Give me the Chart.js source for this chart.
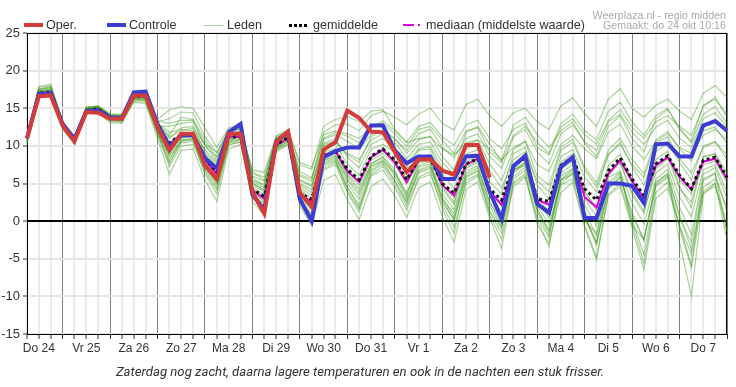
<!DOCTYPE html>
<html>
<head>
<meta charset="utf-8">
<script src="https://cdn.jsdelivr.net/npm/chart.js@4.4.1/dist/chart.umd.min.js"></script>
<style>
  body { margin: 0; background: #fff; }
  #wrap { position: relative; width: 736px; height: 387px; font-family: Arial, "Liberation Sans", sans-serif; }
  #chart { position: absolute; left: 0; top: 0; }
  .lg { position: absolute; top: 17px; font-size: 12.6px; line-height: 16px; color: #333; white-space: nowrap; }
  .sw { position: absolute; }
  .meta { position: absolute; right: 10px; font-size: 10.7px; line-height: 12px; color: #aaa; text-align: right; white-space: nowrap; }
  #caption { position: absolute; left: 0; width: 720px; top: 364px; text-align: center; font: italic 13.2px Roboto, "Liberation Sans", sans-serif; color: #333; }
</style>
</head>
<body>
<div id="wrap">
  <canvas id="chart" width="736" height="387"></canvas>

  <span class="sw" style="left:24px;top:23px;width:19px;height:4px;background:#d43c3c"></span>
  <span class="lg" style="left:46px">Oper.</span>
  <span class="sw" style="left:107px;top:23px;width:19px;height:4px;background:#3c3cd2"></span>
  <span class="lg" style="left:129px">Controle</span>
  <span class="sw" style="left:204px;top:25px;width:19px;height:1px;background:#a6d596"></span>
  <span class="lg" style="left:227px">Leden</span>
  <span class="sw" style="left:289px;top:24px;width:19px;height:3px;background:repeating-linear-gradient(90deg,#000 0 3px,transparent 3px 5px)"></span>
  <span class="lg" style="left:313px">gemiddelde</span>
  <span class="sw" style="left:403px;top:24px;width:11px;height:2px;background:#e000e0"></span>
  <span class="sw" style="left:418px;top:24px;width:2px;height:2px;background:#e000e0"></span>
  <span class="lg" style="left:426px">mediaan (middelste waarde)</span>

  <div class="meta" style="top:9px">Weerplaza.nl - regio midden</div>
  <div class="meta" style="top:19px">Gemaakt: do 24 okt 10:16</div>

  <div id="caption">Zaterdag nog zacht, daarna lagere temperaturen en ook in de nachten een stuk frisser.</div>
</div>

<script>
// 6-hourly steps, from Do 24 06:00 up to Vr 8 00:00 (60 points)
const days = ['Do 24', 'Vr 25', 'Za 26', 'Zo 27', 'Ma 28', 'Di 29', 'Wo 30', 'Do 31',
  'Vr 1', 'Za 2', 'Zo 3', 'Ma 4', 'Di 5', 'Wo 6', 'Do 7'];
const yTicks = [-15, -10, -5, 0, 5, 10, 15, 20, 25];

const oper = [11.0, 16.6, 16.7, 12.7, 10.6, 14.5, 14.4, 13.6, 13.6, 16.7, 16.7, 12.5, 9.4,
  11.6, 11.6, 7.4, 5.6, 11.6, 11.6, 3.8, 1.0, 10.5, 11.9, 3.8, 1.9, 9.5, 10.5, 14.7, 13.7,
  11.9, 11.8, 9.2, 6.5, 8.2, 8.2, 6.7, 6.2, 10.1, 10.1, 5.8];

const controle = [11.0, 16.9, 17.0, 12.9, 10.9, 14.6, 14.7, 13.8, 13.7, 17.1, 17.2, 12.9, 9.9,
  11.4, 11.4, 8.4, 7.0, 11.8, 12.9, 3.5, 1.5, 10.6, 11.8, 2.9, 0.0, 8.5, 9.3, 9.8, 9.8,
  12.7, 12.7, 9.4, 7.7, 8.6, 8.6, 5.6, 5.6, 8.6, 8.7, 3.9, 0.3, 7.3, 8.7, 2.3, 1.1,
  7.2, 8.5, 0.4, 0.4, 5.0, 5.0, 4.7, 2.4, 10.2, 10.3, 8.6, 8.6, 12.7, 13.3, 12.0];

const gemiddelde = [11.0, 17.0, 17.2, 12.8, 10.9, 14.7, 14.9, 13.8, 13.7, 16.6, 16.6, 12.4, 10.4,
  11.5, 11.5, 8.3, 6.5, 11.2, 11.2, 4.2, 3.3, 10.2, 11.1, 3.7, 2.9, 8.7, 9.3, 6.9, 5.5,
  8.6, 9.6, 8.1, 5.5, 8.2, 8.3, 5.0, 3.7, 7.6, 8.3, 4.3, 2.8, 7.4, 8.4, 3.0, 2.6,
  7.4, 8.5, 4.3, 2.8, 6.7, 8.4, 5.6, 3.4, 7.6, 8.7, 6.1, 4.3, 8.1, 8.5, 5.8];

const mediaan = [11.0, 17.0, 17.1, 12.8, 10.9, 14.7, 14.9, 13.8, 13.7, 16.6, 16.6, 12.4, 10.2,
  11.5, 11.5, 8.2, 6.2, 11.2, 11.2, 4.1, 3.0, 10.1, 11.0, 3.5, 2.6, 8.6, 9.3, 6.6, 5.2,
  8.5, 9.5, 7.8, 5.2, 8.1, 8.4, 4.8, 3.4, 7.5, 8.3, 4.0, 2.2, 7.3, 8.4, 2.8, 2.2,
  7.3, 8.3, 3.2, 1.8, 6.3, 8.1, 5.3, 3.1, 7.4, 8.5, 5.9, 4.2, 7.9, 8.3, 5.6];

// ensemble members (leden)
const leden = [
  [10.8, 16.8, 17.0, 12.6, 10.6, 14.6, 14.8, 13.6, 13.5, 16.4, 16.2, 12.2, 9.2, 11.2, 11.4, 7.8, 5.9, 10.8, 11.0, 4.2, 3.1, 9.8, 10.8, 3.9, 2.5, 8.7, 9.2, 6.2, 4.8, 8.1, 9.0, 7.6, 4.9, 7.8, 8.0, 4.8, 3.1, 7.2, 8.0, 3.9, 2.0, 6.8, 7.9, 2.2, 1.5, 6.9, 8.0, 3.8, 1.9, 6.2, 8.1, 5.0, 2.5, 7.0, 8.3, 5.5, 3.6, 7.5, 8.0, 5.1],
  [11.2, 17.6, 17.8, 13.1, 11.2, 15.0, 15.2, 14.1, 14.0, 17.0, 17.1, 13.0, 11.8, 12.2, 12.0, 9.5, 7.8, 12.0, 12.2, 5.8, 4.6, 10.8, 11.7, 5.5, 4.8, 10.2, 10.6, 9.0, 8.2, 10.8, 11.6, 10.5, 8.3, 10.2, 10.5, 7.8, 6.2, 10.1, 10.8, 7.6, 5.4, 9.5, 10.6, 6.0, 4.8, 9.8, 10.9, 7.2, 5.1, 9.4, 11.0, 8.2, 6.3, 10.8, 11.9, 9.6, 8.0, 12.0, 12.5, 10.3],
  [10.4, 16.5, 16.6, 12.3, 10.3, 14.3, 14.6, 13.4, 13.2, 16.0, 15.8, 11.5, 7.2, 10.0, 10.2, 6.5, 4.1, 10.2, 10.5, 3.1, 1.6, 9.4, 10.3, 2.5, 0.4, 6.8, 7.5, 3.8, 1.2, 6.0, 6.8, 4.5, 1.5, 5.6, 6.2, 2.1, -0.8, 5.0, 6.0, 1.2, -1.6, 5.2, 6.3, 0.5, -2.2, 5.5, 6.2, 0.8, -3.2, 4.2, 5.9, 1.2, -2.5, 4.8, 6.0, 0.9, -3.8, 4.5, 5.6, 1.8],
  [11.3, 17.9, 18.2, 13.3, 11.1, 15.2, 15.3, 14.3, 14.2, 16.9, 16.8, 13.5, 14.8, 15.2, 15.0, 12.4, 9.8, 12.4, 12.8, 6.3, 5.9, 11.4, 12.0, 7.5, 6.9, 12.6, 13.5, 13.9, 13.2, 14.6, 14.8, 12.2, 10.5, 12.6, 13.1, 11.2, 10.1, 12.8, 13.4, 11.0, 9.6, 12.2, 13.0, 9.8, 8.8, 12.5, 13.6, 11.5, 10.2, 13.4, 14.8, 12.5, 11.0, 13.2, 14.0, 12.6, 11.4, 15.2, 16.5, 13.8],
  [10.9, 17.1, 17.3, 12.8, 10.9, 14.9, 15.0, 13.8, 13.6, 16.6, 16.5, 12.5, 10.5, 11.4, 11.5, 8.6, 6.6, 11.3, 11.2, 4.5, 3.5, 10.0, 11.0, 4.2, 3.0, 9.2, 9.6, 6.8, 5.4, 8.4, 9.3, 8.1, 5.6, 8.5, 8.8, 4.3, 2.2, 7.6, 8.4, 3.6, 1.2, 7.1, 8.6, 2.7, 0.4, 6.4, 7.5, 2.1, -0.6, 6.0, 7.8, 3.5, 1.0, 7.4, 8.6, 4.3, 2.5, 8.6, 9.0, 6.4],
  [11.0, 16.9, 17.1, 12.9, 10.8, 14.7, 14.9, 13.7, 13.8, 16.5, 16.4, 12.0, 8.8, 11.0, 11.2, 7.3, 5.2, 10.6, 11.4, 3.6, 2.3, 10.2, 11.3, 3.0, 1.4, 8.1, 8.8, 5.4, 3.5, 7.3, 8.2, 6.0, 2.9, 6.8, 7.4, 3.2, 0.5, 6.3, 7.1, 2.6, -0.5, 6.8, 7.5, 1.5, -1.2, 5.6, 6.9, 0.6, -2.8, 4.8, 6.2, 0.2, -4.5, 4.6, 5.8, -0.6, -5.8, 5.4, 6.3, -1.5],
  [11.1, 17.3, 17.5, 13.0, 11.0, 14.9, 15.1, 14.0, 13.9, 16.7, 16.7, 12.8, 11.2, 12.0, 12.4, 10.2, 9.2, 11.9, 12.3, 6.8, 6.5, 11.2, 12.2, 7.8, 7.2, 11.5, 12.0, 11.6, 11.0, 12.5, 13.3, 12.0, 10.4, 11.0, 11.2, 9.6, 8.8, 10.4, 10.8, 9.6, 8.2, 9.8, 10.6, 7.5, 6.6, 10.2, 11.4, 9.6, 8.3, 11.8, 12.9, 10.0, 8.2, 10.6, 11.6, 9.8, 9.0, 11.4, 12.2, 10.8],
  [10.6, 16.6, 16.9, 12.4, 10.4, 14.4, 14.6, 13.3, 13.2, 16.1, 16.0, 11.8, 8.2, 10.8, 11.0, 7.0, 4.8, 10.5, 10.9, 3.8, 2.8, 9.6, 10.6, 3.3, 1.9, 7.4, 8.0, 4.4, 2.2, 6.8, 7.9, 5.3, 2.6, 6.4, 7.0, 2.5, 0.2, 5.8, 6.6, 1.4, -1.0, 5.6, 6.8, 1.6, -1.4, 6.0, 7.0, 1.4, -2.0, 5.2, 6.5, 2.4, -0.4, 5.6, 6.9, 1.9, -1.8, 6.2, 7.1, 3.0],
  [11.4, 17.5, 17.7, 13.2, 11.3, 15.1, 15.2, 14.0, 14.1, 16.8, 16.9, 12.9, 11.4, 13.8, 13.5, 10.8, 8.4, 11.6, 11.8, 5.0, 4.1, 10.6, 11.5, 4.8, 3.8, 9.8, 10.2, 7.6, 6.1, 9.6, 10.2, 9.2, 7.1, 9.4, 9.6, 6.3, 4.3, 8.9, 9.5, 5.2, 3.6, 9.0, 9.8, 4.8, 2.9, 8.6, 9.5, 5.8, 3.9, 8.8, 10.5, 7.2, 4.8, 9.2, 10.4, 7.8, 5.5, 10.0, 10.6, 8.2],
  [10.7, 16.9, 17.0, 12.7, 10.7, 14.6, 14.8, 13.7, 13.6, 16.4, 16.3, 12.3, 9.6, 11.3, 11.3, 8.0, 5.6, 11.0, 11.1, 4.3, 3.0, 10.1, 11.0, 3.6, 2.2, 8.0, 8.6, 5.7, 3.9, 7.6, 8.5, 6.4, 3.8, 7.2, 7.6, 3.0, 1.0, 6.6, 7.4, 2.4, 0.2, 5.9, 7.2, 2.0, -0.4, 5.0, 6.4, 0.0, -1.6, 5.8, 6.6, -0.6, -2.4, 5.2, 6.2, -2.8, -10.0, 3.5, 5.0, -1.2],
  [11.2, 17.4, 17.6, 13.1, 11.1, 15.0, 15.1, 14.1, 14.0, 16.8, 16.8, 13.2, 13.6, 14.5, 14.4, 11.2, 9.0, 12.2, 12.6, 6.0, 5.3, 11.0, 11.9, 6.2, 5.6, 11.8, 12.8, 12.9, 12.0, 14.0, 14.6, 13.8, 12.8, 14.2, 15.0, 13.0, 12.1, 15.5, 16.2, 14.0, 12.6, 14.4, 15.0, 13.2, 12.2, 15.3, 16.4, 14.3, 12.6, 16.2, 17.6, 15.0, 13.8, 15.4, 16.2, 14.6, 13.5, 17.0, 18.0, 16.4],
  [10.9, 17.0, 17.1, 12.8, 10.8, 14.8, 15.0, 13.9, 13.7, 16.5, 16.6, 12.2, 9.5, 11.1, 11.5, 7.5, 5.5, 11.1, 11.5, 4.8, 3.9, 10.3, 11.2, 4.5, 3.4, 9.0, 9.3, 6.0, 4.3, 7.6, 8.6, 6.8, 3.5, 7.9, 8.4, 4.6, 2.5, 8.0, 8.6, 4.2, 1.9, 7.5, 8.5, 3.3, 1.0, 7.8, 9.0, 4.0, 1.5, 7.4, 8.9, 5.6, 2.9, 8.2, 9.3, 4.6, 1.8, 8.5, 8.9, 5.6],
  [10.5, 16.7, 16.8, 12.5, 10.5, 14.5, 14.7, 13.5, 13.4, 16.2, 16.1, 11.6, 7.8, 10.4, 10.6, 6.8, 4.4, 10.4, 10.8, 3.4, 1.9, 9.5, 10.5, 2.8, 0.8, 7.0, 7.8, 4.6, 1.8, 6.2, 7.3, 4.9, 2.0, 5.8, 6.6, 1.6, -1.6, 5.4, 6.2, 0.8, -2.4, 4.6, 5.8, 0.2, -3.4, 4.8, 5.6, -0.5, -4.8, 3.6, 5.0, -0.2, -5.6, 3.8, 5.2, -1.0, -6.2, 4.0, 5.0, -2.5],
  [11.0, 17.2, 17.3, 12.9, 10.9, 14.8, 15.0, 13.8, 13.7, 16.6, 16.6, 12.5, 10.2, 11.6, 11.8, 8.9, 7.2, 11.4, 11.9, 5.4, 4.4, 10.5, 11.6, 5.0, 4.2, 10.4, 10.9, 8.5, 7.1, 10.2, 11.0, 9.6, 7.6, 9.6, 9.9, 7.1, 5.5, 9.6, 10.2, 6.7, 4.4, 8.2, 9.2, 5.4, 3.9, 9.4, 10.5, 6.8, 4.6, 8.9, 10.2, 7.5, 5.8, 10.4, 11.2, 8.3, 6.4, 9.8, 10.5, 8.8],
  [10.3, 16.4, 16.6, 12.2, 10.2, 14.2, 14.4, 13.1, 13.0, 15.8, 15.6, 11.0, 6.2, 9.4, 9.6, 5.5, 2.6, 9.6, 10.2, 2.6, 0.8, 9.2, 10.2, 2.0, -0.6, 5.4, 6.2, 2.8, 0.2, 4.6, 5.6, 3.4, 0.5, 4.4, 5.2, 0.6, -2.8, 4.2, 5.2, 0.4, -3.6, 5.0, 6.0, -0.4, -2.9, 3.8, 5.2, -0.8, -5.2, 3.4, 4.6, -0.9, -6.5, 3.0, 4.4, -0.6, -4.4, 3.8, 4.6, -0.2],
  [11.2, 17.5, 17.9, 13.0, 11.1, 15.0, 15.2, 14.0, 13.9, 16.9, 16.9, 12.6, 12.6, 13.0, 13.2, 9.9, 8.6, 11.7, 12.0, 5.4, 4.9, 10.8, 11.7, 6.6, 5.8, 10.9, 11.5, 10.6, 9.6, 11.5, 12.0, 10.9, 9.4, 11.6, 12.2, 9.8, 8.4, 11.0, 11.6, 8.6, 7.0, 11.2, 12.2, 9.2, 7.6, 11.6, 12.8, 10.6, 9.4, 13.2, 14.2, 11.8, 10.2, 12.5, 13.4, 11.0, 9.8, 13.6, 14.4, 12.5],
  [10.8, 16.8, 17.0, 12.7, 10.7, 14.6, 14.8, 13.6, 13.5, 16.3, 16.3, 12.1, 8.6, 10.6, 10.9, 7.4, 5.0, 10.8, 11.3, 3.9, 2.6, 9.9, 10.9, 3.2, 1.7, 7.8, 8.4, 5.0, 2.9, 7.2, 8.0, 6.4, 3.2, 7.4, 7.9, 3.7, 1.5, 7.0, 7.8, 3.3, 0.9, 6.4, 7.6, 2.5, 0.9, 7.0, 8.2, 3.0, 0.6, 6.6, 7.8, 3.8, 1.4, 6.4, 7.6, 3.2, 0.6, 6.8, 7.5, 3.9],
  [11.1, 17.3, 17.4, 13.0, 11.0, 14.9, 15.1, 13.9, 13.8, 16.6, 16.7, 12.7, 11.0, 12.4, 12.6, 9.2, 7.5, 11.5, 11.6, 5.1, 4.2, 10.4, 11.4, 5.4, 4.6, 10.0, 10.5, 8.8, 7.8, 11.2, 12.1, 11.0, 9.0, 10.8, 11.3, 8.6, 6.8, 11.8, 12.6, 10.2, 8.0, 12.8, 13.8, 11.5, 9.8, 12.0, 13.2, 10.4, 8.6, 12.6, 14.0, 11.0, 9.2, 13.6, 14.8, 12.4, 10.4, 14.2, 15.2, 13.0],
  [10.6, 16.7, 16.9, 12.6, 10.6, 14.5, 14.7, 13.5, 13.4, 16.2, 16.1, 11.9, 7.6, 10.7, 10.8, 6.2, 3.6, 10.1, 10.6, 3.2, 1.2, 9.7, 10.7, 2.6, 1.0, 7.6, 8.2, 4.0, 1.6, 6.6, 7.6, 5.4, 2.4, 6.6, 7.2, 2.8, 0.1, 6.0, 6.8, 2.0, -0.8, 6.6, 7.8, 1.2, -1.9, 5.4, 6.6, 0.6, -3.0, 4.4, 5.8, 0.8, -2.6, 5.0, 6.4, 0.4, -2.8, 5.6, 6.4, 1.2],
  [11.3, 17.8, 18.0, 13.2, 11.2, 15.1, 15.3, 14.2, 14.1, 17.1, 17.0, 13.3, 13.0, 13.4, 13.4, 10.2, 8.0, 11.9, 12.4, 6.6, 5.4, 11.1, 11.8, 6.0, 5.3, 11.0, 11.8, 11.3, 10.4, 12.8, 13.0, 11.6, 9.9, 12.2, 12.6, 10.8, 9.0, 12.0, 12.4, 9.2, 7.8, 11.4, 12.6, 10.5, 9.0, 13.0, 14.2, 12.0, 10.8, 14.6, 15.8, 13.2, 11.4, 14.0, 15.0, 12.2, 10.6, 15.4, 16.2, 14.2]
];

// one label per 6 hours, day name at 12:00
const xLabels = controle.map((v, i) => (i % 4 === 1 ? days[(i - 1) / 4] : ''));

const datasets = [
  { label: 'Oper.', data: oper, borderColor: '#d43c3c', borderWidth: 4, order: 0 },
  { label: 'Controle', data: controle, borderColor: '#3c3cd2', borderWidth: 4, order: 1 },
  { label: 'gemiddelde', data: gemiddelde, borderColor: '#111', borderWidth: 3, borderDash: [3, 3], order: 2 },
  { label: 'mediaan', data: mediaan, borderColor: '#e000e0', borderWidth: 2, order: 3 }
];
leden.forEach((lid, k) => {
  datasets.push({ label: 'Leden', data: lid, borderColor: 'rgba(55,150,20,0.42)', borderWidth: 1.2, order: 4 + k });
});

// black frame round the plot area
const frame = {
  id: 'frame',
  beforeDatasetsDraw(chart) {
    const a = chart.chartArea;
    const ctx = chart.ctx;
    ctx.save();
    ctx.strokeStyle = '#000';
    ctx.lineWidth = 1;
    ctx.strokeRect(a.left + 0.5, a.top + 0.5, a.right - a.left - 1, a.bottom - a.top);
    ctx.restore();
  }
};

new Chart(document.getElementById('chart'), {
  type: 'line',
  data: { labels: xLabels, datasets: datasets },
  plugins: [frame],
  options: {
    responsive: false,
    animation: false,
    layout: { padding: { left: 0, right: 9, top: 33, bottom: 0 } },
    elements: { point: { radius: 0 }, line: { tension: 0, fill: false } },
    plugins: { legend: { display: false }, tooltip: { enabled: false } },
    scales: {
      x: {
        afterFit: (s) => { s.height = 53; },
        border: { color: '#000', width: 1 },
        grid: {
          color: (c) => (c.index % 4 === 3 ? '#808080' : '#ebebeb'),
          lineWidth: (c) => (c.index % 4 === 3 ? 1 : 2),
          tickColor: '#333',
          tickWidth: 1,
          tickLength: 5
        },
        ticks: {
          autoSkip: false,
          maxRotation: 0,
          padding: 2,
          color: '#333',
          font: { family: 'Arial, "Liberation Sans", sans-serif', size: 12 }
        }
      },
      y: {
        min: yTicks[0],
        max: yTicks[yTicks.length - 1],
        afterFit: (s) => { s.width = 27; },
        afterBuildTicks: (s) => { s.ticks = yTicks.map((v) => ({ value: v })); },
        border: { color: '#000', width: 1 },
        grid: {
          color: (c) => (c.tick && c.tick.value === 0 ? '#000' : '#e6e6e6'),
          lineWidth: (c) => 2,
          tickColor: '#333',
          tickWidth: 1,
          tickLength: 4
        },
        ticks: {
          padding: 3,
          color: '#333',
          font: { family: 'Arial, "Liberation Sans", sans-serif', size: 13 }
        }
      }
    }
  }
});
</script>
</body>
</html>
